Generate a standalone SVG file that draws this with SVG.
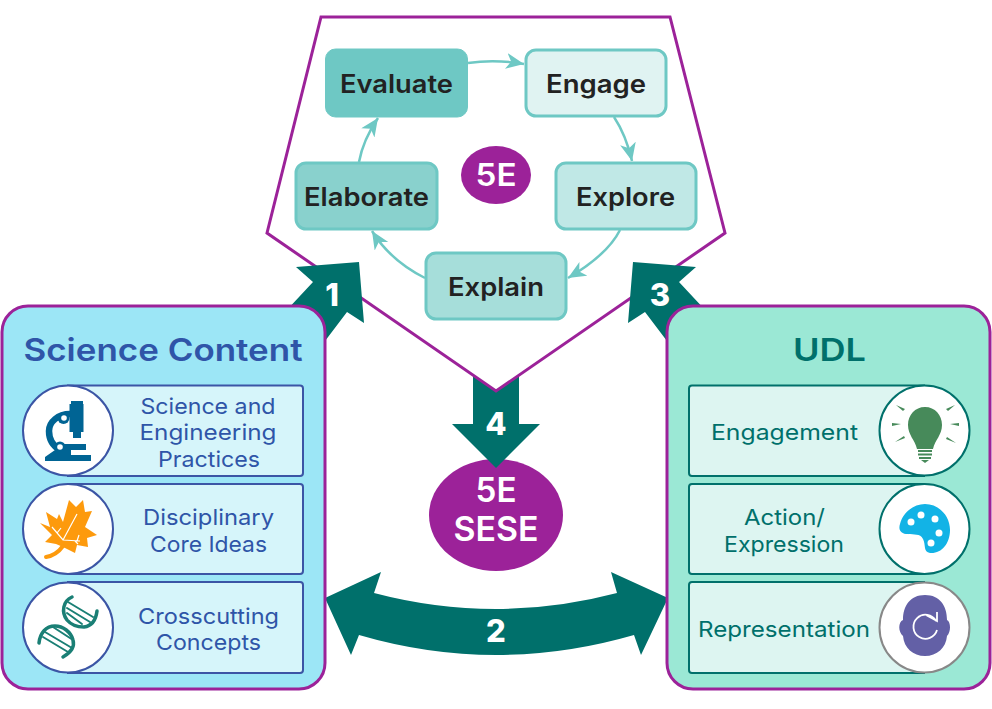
<svg xmlns="http://www.w3.org/2000/svg" width="992" height="709" viewBox="0 0 992 709">
<style>
text{font-family:Inter,"Open Sans","Liberation Sans",sans-serif;text-anchor:middle}
.arrow{fill:#00706b}
.num{font-weight:800;font-size:31px;fill:#fff}
.panel{stroke:#9c2299;stroke-width:3}
.box{stroke:#6ec8c4;stroke-width:3}
.step{font-size:25px;font-weight:600;fill:#222}
.flow{fill:none;stroke:#6ec8c4;stroke-width:2.500;marker-end:url(#head)}
.sc{fill:#d6f5fa;stroke:#3b55a5;stroke-width:2}
.ud{fill:#ddf5f1;stroke:#00706b;stroke-width:2}
.sct{font-size:22px;fill:#2f55a8}
.udt{font-size:22px;fill:#00706b}
.disc{fill:#fff}
.big{font-weight:600;fill:#fff}
</style>
<defs>
<marker id="head" markerUnits="userSpaceOnUse" markerWidth="20" markerHeight="18" refX="18" refY="8" orient="auto">
<path d="M0,0 L18,8 L0,16 L5,8 Z" fill="#6ec8c4"/>
</marker>
</defs>
<g id="five-e-sese"><ellipse cx="496" cy="515" rx="67" ry="56" fill="#9c2299"/><text class="big" x="496" y="502" font-size="34" textLength="41" lengthAdjust="spacingAndGlyphs">5E</text><text class="big" x="496" y="541" font-size="34" textLength="85" lengthAdjust="spacingAndGlyphs">SESE</text></g>
<g id="connector-4">
<polygon id="arrow-4" class="arrow" points="473,370 519,370 519,424 540,424 496,468 452,424 473,424"/>
</g>
<g id="pentagon"><polygon points="321,17 670,17 725,233 496,391 267,233" fill="#fff" stroke="#9c2299" stroke-width="3"/></g>
<g id="cycle">
<path class="flow" d="M468,63 Q495,59 524,64"/>
<path class="flow" d="M614,117 Q626,135 632,161"/>
<path class="flow" d="M620,230 C610,250 590,265 568,278"/>
<path class="flow" d="M425,278 C405,268 385,252 372,231"/>
<path class="flow" d="M359,162 Q363,140 378,118"/>
</g>
<g id="arrows">
<polygon id="arrow-1" class="arrow" points="296,267 359,262 364,323 347,312 322,345 285,312 313,282"/>
<polygon id="arrow-3" class="arrow" points="696,267 633,262 628,323 645,312 670,345 707,312 679,282"/>
<path id="arrow-2" class="arrow" d="M325,598 L381,572 L374,593 Q496,625 617,593 L611,572 L668,598 L641,655 L634,635 Q496,675 359,635 L351,655 Z"/>
</g>
<g id="evaluate"><rect x="325.500" y="49" width="142" height="68" rx="10" fill="#6ec8c4" stroke="#6ec8c4"/><text class="step" x="396.500" y="93" textLength="113" lengthAdjust="spacingAndGlyphs">Evaluate</text></g>
<g id="engage"><rect x="526" y="50" width="140" height="66" rx="10" fill="#e0f3f2" class="box"/><text class="step" x="596" y="93" textLength="100" lengthAdjust="spacingAndGlyphs">Engage</text></g>
<g id="explore"><rect x="556" y="163" width="140" height="66" rx="10" fill="#c0e8e6" class="box"/><text class="step" x="625.500" y="206" textLength="99" lengthAdjust="spacingAndGlyphs">Explore</text></g>
<g id="explain"><rect x="426" y="253" width="140" height="66" rx="10" fill="#a6deda" class="box"/><text class="step" x="496" y="296" textLength="96" lengthAdjust="spacingAndGlyphs">Explain</text></g>
<g id="elaborate"><rect x="296" y="163" width="141" height="66" rx="10" fill="#89d1cd" class="box"/><text class="step" x="366.500" y="206" textLength="125" lengthAdjust="spacingAndGlyphs">Elaborate</text></g>
<g id="five-e"><ellipse cx="496" cy="175" rx="35" ry="29" fill="#9c2299"/><text class="big" x="496" y="186" font-size="31" textLength="41" lengthAdjust="spacingAndGlyphs">5E</text></g>
<g id="science-content">
<rect class="panel" x="2" y="306" width="323" height="383" rx="26" fill="#9ce6f6"/>
<text x="163" y="361" font-size="31" font-weight="600" fill="#2f55a8" textLength="279" lengthAdjust="spacingAndGlyphs">Science Content</text>
</g>
<g id="science-practices">
<path class="sc" d="M68,385.500 H300 Q303,385.500 303,388.500 V473 Q303,476 300,476 H68 Z"/>
<circle class="disc" cx="68" cy="430.500" r="45" stroke="#3b55a5" stroke-width="2"/>
<g fill="#006494">
<path d="M71,401 H83 V404 H83.500 V432 H81 V438 H73 V432 H69.500 V404 H71 Z"/>
<path fill="none" stroke="#006494" stroke-width="6.500" d="M70,414 C58,414 49,422 49,431 C49,440 53,446 60,450"/>
<circle cx="63.500" cy="418" r="6"/>
<circle cx="60" cy="447" r="5.500"/>
<rect x="63" y="444" width="23" height="6"/>
<polygon points="45,461 91,461 91,455 71,455 71,450 55,450 45,457"/>
</g>
<circle cx="64" cy="418" r="2.800" fill="#fff"/>
<circle cx="60" cy="447" r="2.800" fill="#fff"/>
<text class="sct" x="208" y="414" textLength="135" lengthAdjust="spacingAndGlyphs">Science and</text>
<text class="sct" x="208" y="440" textLength="137" lengthAdjust="spacingAndGlyphs">Engineering</text>
<text class="sct" x="209" y="467" textLength="102" lengthAdjust="spacingAndGlyphs">Practices</text>
</g>
<g id="core-ideas">
<path class="sc" d="M68,484 H300 Q303,484 303,487 V571 Q303,574 300,574 H68 Z"/>
<circle class="disc" cx="68" cy="529" r="45" stroke="#3b55a5" stroke-width="2"/>
<path fill="#fd9a0d" d="M69,500 L76,507 L83,500 L85,512 L92,511 L85,527 L97,535 L87,538 L88,547 L77,545 L75,553 L63,547 L56,544 L45,542 L52,535 L40,523 L50,527 L46,512 L57,519 L59,514 L63,522 Z"/>
<path fill="none" stroke="#fd9a0d" stroke-width="4" stroke-linecap="round" d="M63,546 C58,553 52,556 46,557"/>
<path fill="none" stroke="#fff" stroke-width="1.200" d="M63,540 L77,514 M52,527 L63,540 L80,541 M77,541 L79,535 M75,541 L78,544 M57,533 L61,528"/>
<text class="sct" x="208.500" y="525" textLength="131" lengthAdjust="spacingAndGlyphs">Disciplinary</text>
<text class="sct" x="208.500" y="552" textLength="117" lengthAdjust="spacingAndGlyphs">Core Ideas</text>
</g>
<g id="crosscutting">
<path class="sc" d="M68,582 H300 Q303,582 303,585 V670 Q303,673 300,673 H68 Z"/>
<circle class="disc" cx="68" cy="627.500" r="45" stroke="#3b55a5" stroke-width="2"/>
<g fill="none" stroke="#1a7f75" stroke-linecap="round">
<path stroke-width="3.500" d="M72,597 C63,601 61,612 67,620 C72,626 78,627 84,627 C92,626 96,619 97,611"/>
<path stroke-width="3.500" d="M39,643 C40,633 46,626 55,626 C63,626 71,632 73,640 C75,647 70,653 63,657"/>
<path stroke-width="2" d="M53,627 L73,640 M45,632 L72,648 M43,637 L68,652 M68,602 L93,617 M67,608 L90,622 M67,613 L82,624"/>
</g>
<text class="sct" x="208.500" y="624" textLength="141" lengthAdjust="spacingAndGlyphs">Crosscutting</text>
<text class="sct" x="208.500" y="650" textLength="105" lengthAdjust="spacingAndGlyphs">Concepts</text>
</g>
<g id="udl">
<rect class="panel" x="667" y="306" width="323" height="383" rx="26" fill="#9be8d5"/>
<text x="829.500" y="361" font-size="31" font-weight="600" fill="#00706b" textLength="73" lengthAdjust="spacingAndGlyphs">UDL</text>
</g>
<g id="engagement">
<path class="ud" d="M924,385.500 H692 Q689,385.500 689,388.500 V473 Q689,476 692,476 H924 Z"/>
<circle class="disc" cx="924.500" cy="430.500" r="45" stroke="#00706b" stroke-width="2"/>
<path fill="#478a5a" d="M925,407 C935,407 942,415 942,425 C942,435 935,440 933,449 H917 C915,440 908,435 908,425 C908,415 915,407 925,407 Z"/>
<path fill="none" stroke="#478a5a" stroke-width="2" d="M918,451 H932 M918,454.500 H932 M919,458 H931"/>
<path fill="#478a5a" d="M921,460 H929 L925,463 Z"/>
<g fill="#478a5a"><polygon points="896,405 905,409 903,411"/><polygon points="892,423 901,424 892,426"/><polygon points="895,442 904,436 905,438"/><polygon points="955,405 946,409 948,411"/><polygon points="959,423 950,424 959,426"/><polygon points="956,443 947,437 946,439"/></g>
<text class="udt" x="784.500" y="440" textLength="147" lengthAdjust="spacingAndGlyphs">Engagement</text>
</g>
<g id="action">
<path class="ud" d="M924,484 H692 Q689,484 689,487 V571 Q689,574 692,574 H924 Z"/>
<circle class="disc" cx="924.500" cy="529" r="45" stroke="#00706b" stroke-width="2"/>
<path fill="#12b3e6" d="M925,504 C939,504 950,516 950,530 C950,544 941,554 930,553 C923,552 926,545 923,539 C920,533 914,535 908,534 C901,534 898,530 900,524 C903,512 914,504 925,504 Z"/>
<g fill="#fff"><circle cx="911" cy="522" r="3.500"/><circle cx="921" cy="515" r="3.500"/><circle cx="935" cy="519" r="3.500"/><circle cx="939" cy="533" r="3.500"/><circle cx="931" cy="543" r="3.500"/></g>
<text class="udt" x="784.500" y="525" textLength="81" lengthAdjust="spacingAndGlyphs">Action/</text>
<text class="udt" x="784" y="552" textLength="120" lengthAdjust="spacingAndGlyphs">Expression</text>
</g>
<g id="representation">
<path class="ud" d="M924,582 H692 Q689,582 689,585 V670 Q689,673 692,673 H924 Z"/>
<circle class="disc" cx="924.500" cy="627.500" r="45" stroke="#888" stroke-width="2"/>
<path fill="#6360a6" d="M925,595 C940,595 947,606 947,620 C951,622 951,632 947,636 C946,648 937,656 925,656 C913,656 904,648 903,636 C898,632 898,622 903,620 C903,606 910,595 925,595 Z"/>
<path fill="none" stroke="#fff" stroke-width="1.800" d="M936,621 A12,12 0 1 0 937,630 M926,615 L937,621 L937,612"/>
<text class="udt" x="784" y="637" textLength="172" lengthAdjust="spacingAndGlyphs">Representation</text>
</g>
<g id="labels">
<text class="num" x="332" y="306">1</text>
<text class="num" x="660" y="306">3</text>
<text class="num" x="496" y="435">4</text>
<text class="num" x="496" y="642">2</text>
</g>
</svg>
